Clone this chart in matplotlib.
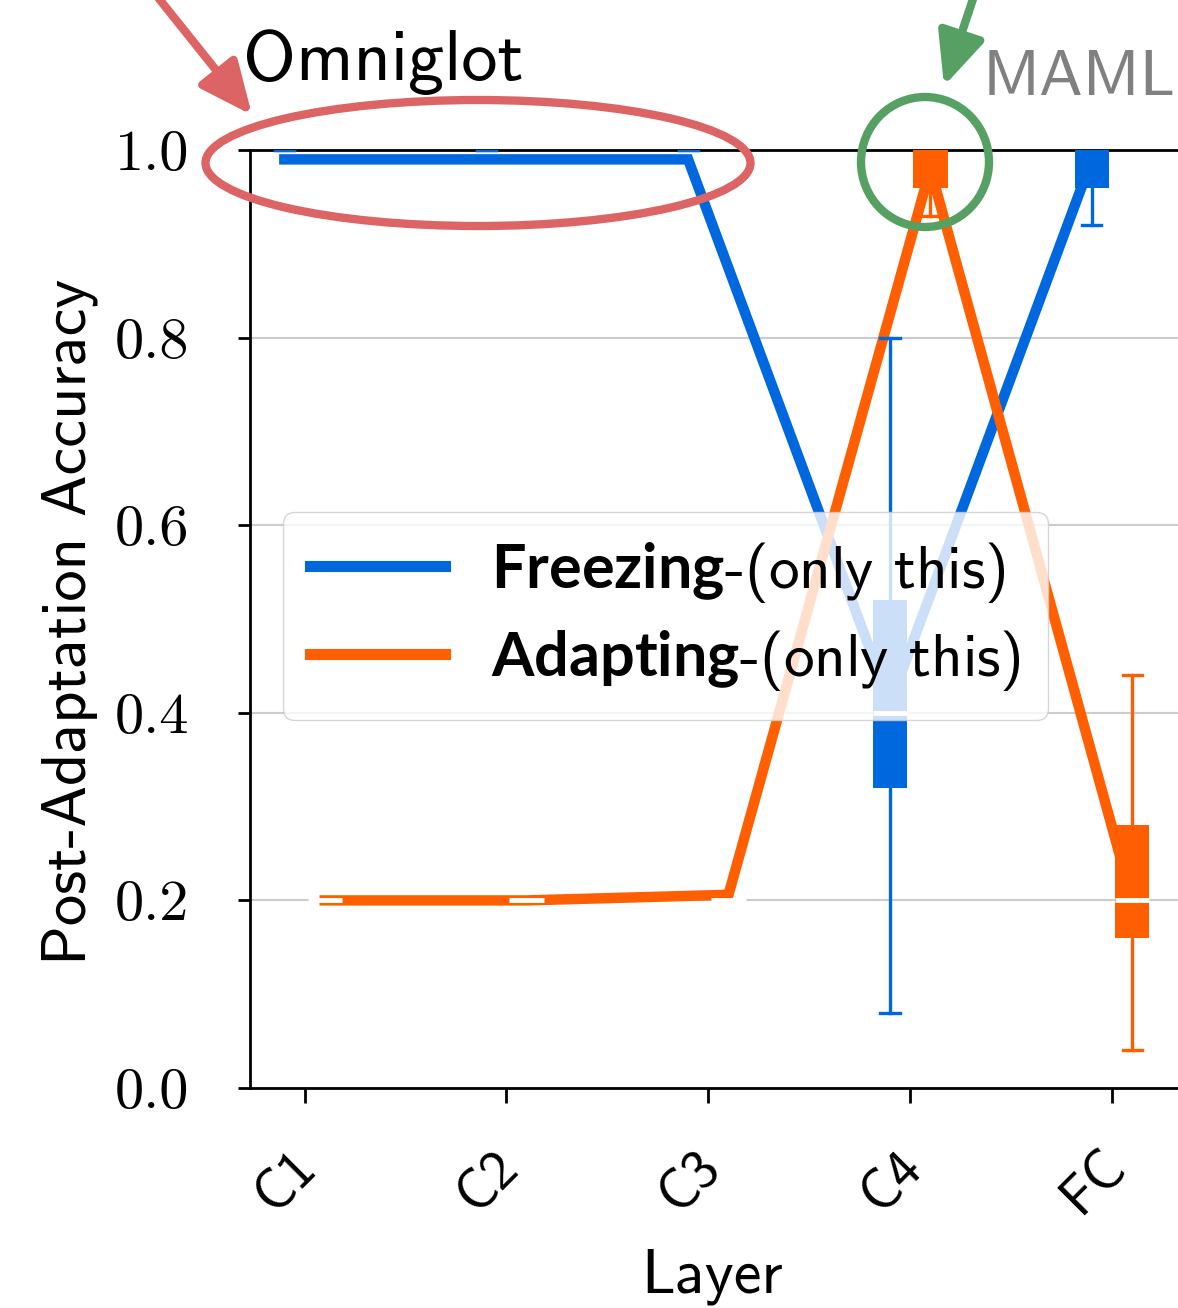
import matplotlib
matplotlib.use("Agg")
import matplotlib.pyplot as plt
from matplotlib.lines import Line2D
from matplotlib.patches import Ellipse, FancyArrowPatch

W, H = 1178, 1308

layers = ["C1", "C2", "C3", "C4", "FC"]

# Freezing (only this layer): box stats + mean (line)
freeze_med = [1.00, 1.00, 1.00, 0.40, 1.00]
freeze_q1 = [1.00, 1.00, 1.00, 0.32, 0.96]
freeze_q3 = [1.00, 1.00, 1.00, 0.52, 1.00]
freeze_lo = [1.00, 1.00, 1.00, 0.08, 0.92]
freeze_hi = [1.00, 1.00, 1.00, 0.80, 1.00]
freeze_mean = [0.99, 0.99, 0.99, 0.41, 0.99]

# Adapting (only this layer): box stats + mean (line)
adapt_med = [0.20, 0.20, 0.20, 1.00, 0.20]
adapt_q1 = [0.20, 0.20, 0.20, 0.96, 0.16]
adapt_q3 = [0.20, 0.20, 0.20, 1.00, 0.28]
adapt_lo = [0.20, 0.20, 0.20, 0.93, 0.04]
adapt_hi = [0.20, 0.20, 0.20, 1.00, 0.44]
adapt_mean = [0.20, 0.20, 0.206, 0.98, 0.20]

yticks = [0.0, 0.2, 0.4, 0.6, 0.8, 1.0]

BLUE = "#0068DE"
ORANGE = "#FF5F00"
RED = "#DD6464"
GREEN = "#55A062"

plt.rcParams["font.family"] = "cmss10"
plt.rcParams["mathtext.fontset"] = "custom"
plt.rcParams["mathtext.bf"] = "Lato:bold"
plt.rcParams["axes.unicode_minus"] = False


def px(x, y):
    # pixel position (from top left) -> figure fraction
    return x / W, 1 - y / H


def stats(med, q1, q3, lo, hi):
    return [dict(med=m, q1=a, q3=b, whislo=l, whishi=h, fliers=[])
            for m, a, b, l, h in zip(med, q1, q3, lo, hi)]


fig = plt.figure(figsize=(W / 100, H / 100), dpi=100)
ax = fig.add_axes([250 / W, 220 / H, 963 / W, 938 / H])

pos = list(range(len(layers)))
off = 0.1
groups = [
    (stats(freeze_med, freeze_q1, freeze_q3, freeze_lo, freeze_hi), freeze_mean, BLUE, -off),
    (stats(adapt_med, adapt_q1, adapt_q3, adapt_lo, adapt_hi), adapt_mean, ORANGE, off),
]
for s, mean, c, sh in groups:
    p = [i + sh for i in pos]
    ax.plot(p, mean, color=c, lw=7.5, zorder=2, solid_joinstyle="miter")
    bp = ax.bxp(s, positions=p, widths=0.17, patch_artist=True, showfliers=False,
                manage_ticks=False, capwidths=0.095,
                boxprops=dict(facecolor=c, edgecolor=c, lw=0),
                medianprops=dict(color="white", lw=3.5),
                whiskerprops=dict(color=c, lw=2.4),
                capprops=dict(color=c, lw=2.4), zorder=3)
    # medians sitting on the top spine stay hidden
    for m, d in zip(bp["medians"], s):
        if d["med"] >= 1.0:
            m.set_visible(False)

ax.set_xlim(-0.27, 4.5)
ax.set_ylim(0, 1.0)
ax.set_xticks(pos)
ax.tick_params(axis="x", length=11, width=2, labelbottom=False)
# rotated layer names, a little left of their ticks
for i, name in zip(pos, layers):
    ax.text(i - 0.09, -0.10, name, transform=ax.get_xaxis_transform(),
            rotation=45, ha="center", va="center", fontsize=40)

ax.set_yticks(yticks)
ax.set_yticklabels([f"{v:.1f}" for v in yticks], fontsize=42, family="cmr10")
ax.tick_params(axis="y", length=9, width=2, pad=35)
for side in ["left", "bottom", "top", "right"]:
    ax.spines[side].set_linewidth(2)
ax.grid(axis="y", color="#cccccc", lw=1.5)
ax.set_axisbelow(True)

ax.set_xlabel("Layer", fontsize=45)
ax.xaxis.set_label_coords(0.48, -0.171)
ax.set_ylabel("Post-Adaptation Accuracy", fontsize=45)
ax.yaxis.set_label_coords(-0.158, 0.497)

handles = [Line2D([], [], color=BLUE, lw=8), Line2D([], [], color=ORANGE, lw=8)]
labels = [r"$\mathbf{Freezing}$-(only this)", r"$\mathbf{Adapting}$-(only this)"]
ax.legend(handles, labels, loc="lower left", bbox_to_anchor=(0.034, 0.392),
          borderaxespad=0, fontsize=44, handlelength=2.2, handletextpad=0.75,
          borderpad=0.45, framealpha=0.8, edgecolor="#cccccc", labelspacing=0.38)

# annotations
fig.text(*px(243, 80), "Omniglot", fontsize=52, va="baseline")
fig.text(*px(983, 95), "MAML", fontsize=47, va="baseline", color="#808080")

fig.add_artist(Ellipse(px(478, 163), 545 / W, 126 / H, transform=fig.transFigure,
                       fill=False, ec=RED, lw=6, zorder=10))
fig.add_artist(Ellipse(px(925, 162), 128 / W, 130 / H, transform=fig.transFigure,
                       fill=False, ec=GREEN, lw=6, zorder=10))

for start, tip, c in [((148, -15), (252, 115), RED), ((976, -10), (944, 86), GREEN)]:
    fig.add_artist(FancyArrowPatch(px(*start), px(*tip), transform=fig.transFigure,
                                   arrowstyle="-|>,head_length=1.0,head_width=0.45",
                                   mutation_scale=32, lw=6, color=c,
                                   shrinkA=0, shrinkB=0, zorder=10))

fig.savefig("out.png", dpi=100)
